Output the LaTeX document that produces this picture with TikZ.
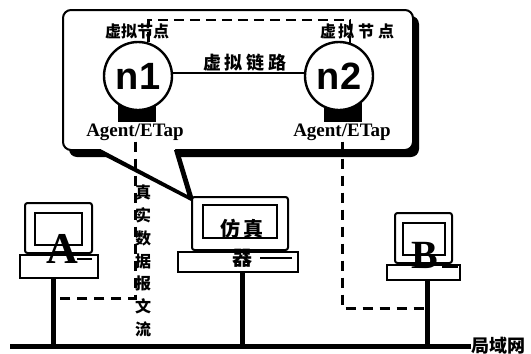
\documentclass[tikz,border=0pt]{standalone}
\usepackage{fontspec}
\setmainfont{Liberation Serif}
\newfontfamily\cjk{Noto Sans CJK SC}
\newfontfamily\arialf{Liberation Sans}
\begin{document}
\begin{tikzpicture}[x=1pt,y=-1pt,
  monitor/.style={draw, line width=2pt, rounded corners=2.5pt, fill=white, inner sep=0pt},
  screen/.style={draw, line width=1.8pt, inner sep=0pt},
  basebox/.style={draw, line width=2pt, fill=white, inner sep=0pt},
  slot/.style={line width=2pt},
  pole/.style={line width=5pt},
  lan/.style={line width=5pt},
  vnode/.style={circle, draw, line width=2.4pt, fill=white, minimum size=68pt, inner sep=0pt,
    font=\arialf\bfseries\fontsize{38}{38}\selectfont},
  tapbox/.style={fill=black, minimum width=38pt, minimum height=22pt, inner sep=0pt},
  agent/.style={font=\bfseries\fontsize{19}{19}\selectfont, inner sep=1pt},
  zh/.style={font=\cjk\bfseries\fontsize{16}{16}\selectfont, inner sep=0pt},
  zhbig/.style={font=\cjk\bfseries\fontsize{20}{20}\selectfont, inner sep=0pt},
  topdash/.style={line width=2.6pt, dash pattern=on 10pt off 6pt},
  flowdash/.style={line width=3pt, dash pattern=on 10pt off 7pt},
  pcletter/.style={font=\bfseries\fontsize{44}{44}\selectfont, inner sep=0pt},
]
\useasboundingbox (0,0) rectangle (531,354);

% ---- callout: shadow, body, tail ----
\fill[rounded corners=8pt] (69,16) rectangle (419,157);
\fill (106,157) -- (195,203) -- (181,157) -- cycle;
\fill[white, rounded corners=8pt] (63,10) rectangle (413,150);
\draw[line width=2pt, rounded corners=8pt] (63,10) rectangle (413,150);
\fill[white] (101,147) -- (101,150) -- (189,197) -- (175,150) -- (175,147) -- cycle;
\draw[line width=2pt] (100,150) -- (189,197) -- (175,150);

% ---- virtual nodes ----
\node[tapbox] (t1) at (137,111) {};
\node[tapbox] (t2) at (343,111) {};
\node[vnode] (n1) at (138,76) {n1};
\node[vnode] (n2) at (339,76) {n2};
\draw[line width=1.8pt] (n1.5) -- (n2.175);
\node[zh, font=\cjk\bfseries\fontsize{18}{18}\selectfont] (link) at (245,63)
  {虚\hspace{4pt}拟\hspace{4pt}链\hspace{4pt}路};

\coordinate (tc) at (350,20);
\draw[topdash] (n1.73) |- (tc) |- (n2.71);
\node[zh] (v1) at (137,31) {虚拟节点};
\node[zh] (v2) at (357,31) {虚\hspace{2pt}拟\hspace{4pt}节\hspace{4pt}点};

\node[agent] (a1) at (135,132) {Agent/ETap};
\node[agent] (a2) at (342,132) {Agent/ETap};

% ---- LAN ----
\node[zh, font=\cjk\bfseries\fontsize{18}{18}\selectfont] (lanlabel) at (498,346) {局域网};
\coordinate (lanL) at (10,346);
\draw[lan] (lanL) -- (lanlabel.west);
\coordinate (lA) at (53,346);
\coordinate (lS) at (242,346);
\coordinate (lB) at (427,346);

% ---- host A ----
\node[monitor, minimum width=67pt, minimum height=50pt] (monA) at (58.5,228) {};
\node[screen, minimum width=47pt, minimum height=32pt] (scrA) at (58.5,229) {};
\node[basebox, minimum width=78pt, minimum height=23pt] (baseA) at (59,266.5) {};
\draw[slot] (77,258.5) -- (92,258.5);
\draw[pole] (lA |- baseA.south) -- (lA);
\node[pcletter] (labA) at (62,249) {A};

% ---- simulator ----
\node[monitor, minimum width=96pt, minimum height=53pt] (monS) at (240,223.5) {};
\node[screen, minimum width=74pt, minimum height=33pt] (scrS) at (240,221.5) {};
\node[basebox, minimum width=120pt, minimum height=20pt] (baseS) at (238,262) {};
\draw[slot] (260,258) -- (292,258);
\draw[pole] (lS |- baseS.south) -- (lS);
\node[zhbig] (simA) at (242,229) {仿\hspace{3pt}真};
\node[zhbig] (simB) at (242,258) {器};

% ---- host B ----
\node[monitor, minimum width=57pt, minimum height=50pt] (monB) at (423.5,238) {};
\node[screen, minimum width=42pt, minimum height=32pt] (scrB) at (424,239) {};
\node[basebox, minimum width=73pt, minimum height=15pt] (baseB) at (423.5,272.5) {};
\draw[slot] (442,267) -- (458,267);
\draw[pole] (lB |- baseB.south) -- (lB);
\node[pcletter, font=\bfseries\fontsize{40}{40}\selectfont] (labB) at (425,255) {B};

% ---- real datagram flow ----
\coordinate (pA) at (53,298);
\coordinate (pB) at (427,308);
\draw[flowdash] (a1.south) |- (pA);
\draw[flowdash] (a2.south) |- (pB);
\node[zh, font=\cjk\bfseries\fontsize{16}{22.8}\selectfont, align=center] (flow) at (143,261)
  {真\\实\\数\\据\\报\\文\\流};
\end{tikzpicture}
\end{document}
